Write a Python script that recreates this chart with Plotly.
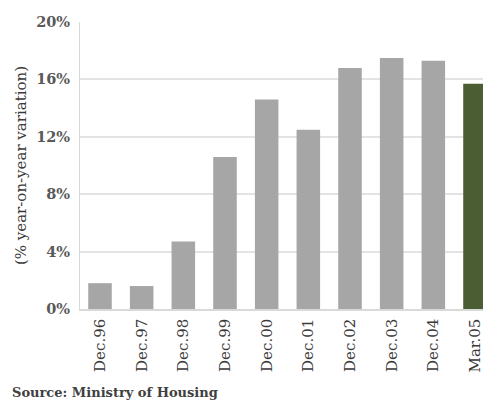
import plotly.graph_objects as go

categories = ["Dec.96", "Dec.97", "Dec.98", "Dec.99", "Dec.00", "Dec.01", "Dec.02", "Dec.03", "Dec.04", "Mar.05"]
values = [1.8, 1.6, 4.7, 10.6, 14.6, 12.5, 16.8, 17.5, 17.3, 15.7]
bar_colors = ["#A6A6A6"] * 9 + ["#4B5E33"]
y_ticks = [0, 4, 8, 12, 16, 20]
y_tick_labels = ["0%", "4%", "8%", "12%", "16%", "20%"]

font_family = "DejaVu Serif"

# page body has an 8px margin, so figure is placed at (8, 8)
W, H = 483, 392
ML, MR, MT, MB = 72, 0, 13.5, 90.5
PW, PH = W - ML - MR, H - MT - MB

fig = go.Figure(go.Bar(
    x=list(range(len(categories))),
    y=values,
    marker=dict(color=bar_colors, line=dict(width=0)),
    width=0.565,
))

fig.update_layout(
    width=W, height=H,
    margin=dict(l=ML, r=MR, t=MT, b=MB, pad=0),
    paper_bgcolor="white", plot_bgcolor="white",
    showlegend=False,
    font=dict(family=font_family, color="#404040"),
    xaxis=dict(
        tickmode="array",
        tickvals=list(range(len(categories))),
        ticktext=categories,
        tickangle=-90,
        range=[-0.48, 9.384],
        showgrid=False,
        showline=True, linecolor="#D9D9D9", linewidth=1.5,
        ticks="",
        ticklabelstandoff=2,
        tickfont=dict(family=font_family, size=15, color="#3A3A3A"),
    ),
    yaxis=dict(
        range=[0, 20],
        tickmode="array",
        tickvals=y_ticks,
        ticktext=y_tick_labels,
        showgrid=True, gridcolor="#E3E3E3", gridwidth=1.5,
        zeroline=False,
        showline=True, linecolor="#D9D9D9", linewidth=1,
        ticks="",
        ticklabelstandoff=6,
        tickfont=dict(family=font_family, size=14.5, color="#595959", weight="bold"),
        title=dict(text="(% year-on-year variation)",
                   font=dict(family=font_family, size=15, color="#3A3A3A"),
                   standoff=5),
    ),
)

fig.add_annotation(
    text="<b>Source: Ministry of Housing</b>",
    xref="paper", yref="paper",
    x=-70 / PW, y=-83.5 / PH,
    xanchor="left", yanchor="middle",
    showarrow=False,
    font=dict(family=font_family, size=13, color="#404040"),
)

fig.write_html("out.html")
